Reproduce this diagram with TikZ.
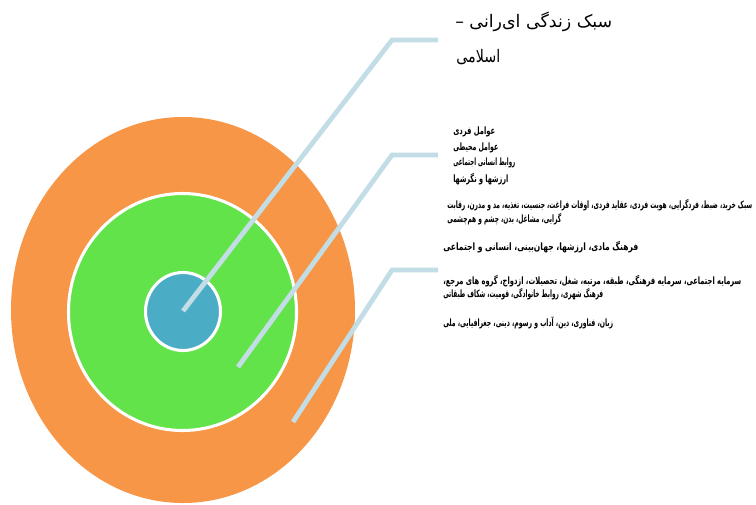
\documentclass[tikz,border=0pt]{standalone}
\usepackage{fontspec}
\usepackage{graphicx}
\usetikzlibrary{shapes.geometric}
\TeXXeTstate=1
\newfontfamily\arabicfont[Script=Arabic]{DejaVu Sans}
\definecolor{ringorange}{HTML}{F79646}
\definecolor{ringgreen}{HTML}{62E34A}
\definecolor{ringblue}{HTML}{4BACC6}
\definecolor{connblue}{HTML}{C2DDE6}
\newsavebox\fitbox
\newlength\fitlen
\newcommand\fitw[2]{%
  \sbox\fitbox{#2}%
  \setlength\fitlen{\wd\fitbox}%
  \pgfmathsetmacro\fitfac{#1*0.75/\fitlen}%
  \scalebox{\fitfac}[1]{\usebox\fitbox}}
\tikzset{
  ring/.style={ellipse, inner sep=0pt, outer sep=0pt},
  conn/.style={draw=connblue, line width=3.6pt, line join=miter, line cap=butt},
  ttl/.style={anchor=west, inner sep=0pt, font=\arabicfont\fontsize{13}{15}\selectfont},
  txt/.style={anchor=west, inner sep=0pt, font=\arabicfont\bfseries\fontsize{7.6}{9}\selectfont},
}
\begin{document}
\begin{tikzpicture}[x=0.75pt,y=-0.75pt]
\useasboundingbox (0,0) rectangle (756,504);
% rings
\node[ring, fill=ringorange, minimum width=258pt, minimum height=289.5pt] (outer) at (183,310) {};
\node[ring, fill=ringgreen, draw=white, line width=2.3pt, minimum width=171pt, minimum height=177.75pt] (middle) at (182.5,312) {};
\node[ring, fill=ringblue, draw=white, line width=2.3pt, minimum width=56.25pt, minimum height=58.5pt] (inner) at (183,311.5) {};
% connector points
\coordinate (s1) at (183,311);
\coordinate (k1) at (392,40);
\coordinate (e1) at (438,40);
\coordinate (s2) at (238,367);
\coordinate (k2) at (392,155);
\coordinate (e2) at (438,155);
\coordinate (s3) at (293,422);
\coordinate (k3) at (392,270);
\coordinate (e3) at (438,270);
\draw[conn] (s1) -- (k1) -- (e1);
\draw[conn] (s2) -- (k2) -- (e2);
\draw[conn] (s3) -- (k3) -- (e3);
% title
\node[ttl] (t1) at (455,22) {\fitw{157}{\beginR سبک زندگی ای‌رانی –\endR}};
\node[ttl] (t2) at (456,57) {\fitw{44}{\beginR اسلامی\endR}};
% block 1
\node[txt] (b1a) at (453,132) {\fitw{42}{\beginR عوامل فردی\endR}};
\node[txt] (b1b) at (453,148) {\fitw{45}{\beginR عوامل محیطی\endR}};
\node[txt] (b1c) at (453,163) {\fitw{62}{\beginR روابط انسانی اجتماعی\endR}};
\node[txt] (b1d) at (453,179) {\fitw{55}{\beginR ارزشها و نگرشها\endR}};
% block 2
\node[txt] (b2a) at (447,205) {\fitw{305}{\beginR سبک خرید، ضبط، فردگرایی، هویت فردی، عقاید فردی، اوقات فراغت، جنسیت، تغذیه، مد و مدرن، رقابت\endR}};
\node[txt] (b2b) at (447,219) {\fitw{114}{\beginR گرایی، مشاغل، بدن، چشم و هم‌چشمی\endR}};
% block 3
\node[txt] (b3) at (443,247) {\fitw{195}{\beginR فرهنگ مادی، ارزشها، جهان‌بینی، انسانی و اجتماعی\endR}};
% block 4
\node[txt] (b4a) at (443,281) {\fitw{298}{\beginR سرمایه اجتماعی، سرمایه فرهنگی، طبقه، مرتبه، شغل، تحصیلات، ازدواج، گروه های مرجع،\endR}};
\node[txt] (b4b) at (443,294) {\fitw{160}{\beginR فرهنگ شهری، روابط خانوادگی، قومیت، شکاف طبقاتی\endR}};
% block 5
\node[txt] (b5) at (443,323) {\fitw{170}{\beginR زبان، فناوری، دین، آداب و رسوم، دینی، جغرافیایی، ملی\endR}};
\end{tikzpicture}
\end{document}
